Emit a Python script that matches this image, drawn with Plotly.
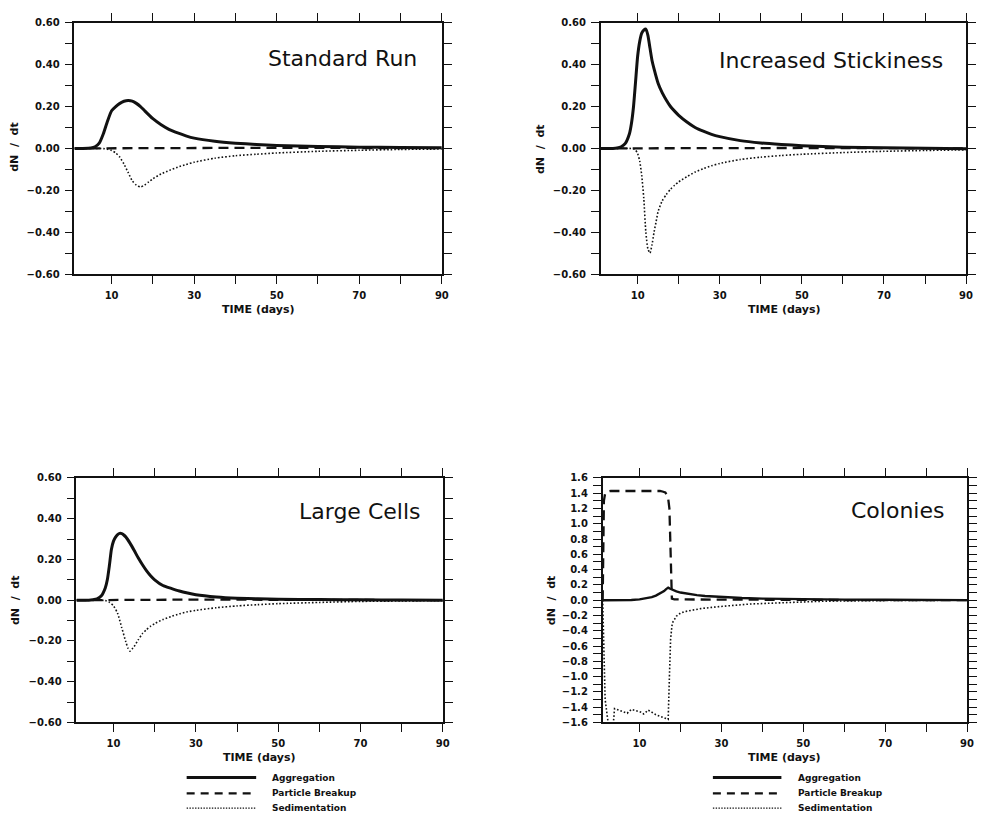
import plotly.graph_objects as go

# ---------------- data ----------------
# Standard Run
t_std_agg = [1, 3, 5, 6, 7, 8, 9, 10, 11, 12, 13, 14, 15, 16, 17, 18, 20, 22, 24, 26, 28, 30, 35, 40, 45, 50, 60, 70, 80, 90]
agg_std = [0, 0, 0.002, 0.008, 0.025, 0.07, 0.13, 0.18, 0.2, 0.215, 0.225, 0.229, 0.226, 0.215, 0.2, 0.18, 0.142, 0.113,
           0.09, 0.074, 0.06, 0.049, 0.034, 0.025, 0.019, 0.014, 0.009, 0.006, 0.004, 0.003]
t_std_sed = [1, 5, 8, 9, 10, 11, 12, 13, 14, 15, 16, 17, 18, 19, 20, 22, 24, 26, 28, 30, 35, 40, 45, 50, 60, 70, 80, 90]
sed_std = [0, 0, -0.001, -0.004, -0.01, -0.022, -0.042, -0.075, -0.115, -0.155, -0.176, -0.184, -0.175, -0.16, -0.145,
           -0.122, -0.105, -0.09, -0.077, -0.066, -0.047, -0.035, -0.028, -0.022, -0.014, -0.009, -0.005, -0.003]
t_std_brk = [1, 10, 20, 30, 50, 70, 90]
brk_std = [0, 0.001, 0.002, 0.003, 0.003, 0.002, 0.001]

# Increased Stickiness
t_stk_agg = [1, 4, 5, 6, 7, 8, 8.5, 9, 9.5, 10, 10.5, 11, 11.5, 12, 12.5, 13, 13.5, 14, 15, 16, 17, 18, 19, 20, 22, 24,
             26, 28, 30, 35, 40, 45, 50, 60, 70, 80, 90]
agg_stk = [0, 0, 0.002, 0.008, 0.024, 0.07, 0.12, 0.2, 0.32, 0.44, 0.51, 0.55, 0.565, 0.57, 0.54, 0.48, 0.42, 0.38, 0.31,
           0.265, 0.23, 0.2, 0.178, 0.158, 0.126, 0.1, 0.082, 0.067, 0.056, 0.037, 0.026, 0.019, 0.013, 0.006, 0.003,
           0.001, -0.002]
t_stk_sed = [1, 8, 9, 9.5, 10, 10.5, 11, 11.5, 12, 12.5, 13, 13.5, 14, 14.5, 15, 16, 17, 18, 19, 20, 22, 24, 26, 28, 30,
             35, 40, 45, 50, 60, 70, 80, 90]
sed_stk = [0, 0, -0.002, -0.008, -0.025, -0.06, -0.13, -0.24, -0.40, -0.48, -0.5, -0.46, -0.4, -0.35, -0.3, -0.25, -0.22,
           -0.195, -0.176, -0.16, -0.135, -0.113, -0.097, -0.083, -0.072, -0.053, -0.042, -0.034, -0.028, -0.02,
           -0.014, -0.01, -0.007]
t_stk_brk = [1, 10, 20, 30, 50, 70, 90]
brk_stk = [0, 0.001, 0.002, 0.002, 0.002, 0.001, 0]

# Large Cells
t_lc_agg = [1, 4, 5, 6, 7, 8, 8.5, 9, 9.5, 10, 10.5, 11, 11.5, 12, 12.5, 13, 14, 15, 16, 17, 18, 19, 20, 22, 24, 26, 28,
            30, 35, 40, 45, 50, 60, 70, 80, 90]
agg_lc = [0, 0, 0.002, 0.006, 0.02, 0.06, 0.1, 0.17, 0.25, 0.29, 0.31, 0.322, 0.328, 0.327, 0.32, 0.31, 0.28, 0.245,
          0.208, 0.175, 0.145, 0.12, 0.1, 0.072, 0.058, 0.045, 0.035, 0.027, 0.016, 0.01, 0.007, 0.005, 0.003, 0.002,
          0.001, 0]
t_lc_sed = [1, 8, 9, 10, 11, 12, 13, 13.5, 14, 14.5, 15, 16, 17, 18, 19, 20, 22, 24, 26, 28, 30, 35, 40, 45, 50, 60, 70,
            80, 90]
sed_lc = [0, -0.002, -0.01, -0.028, -0.065, -0.135, -0.205, -0.235, -0.25, -0.24, -0.228, -0.195, -0.165, -0.145,
          -0.128, -0.115, -0.095, -0.08, -0.067, -0.057, -0.05, -0.037, -0.028, -0.022, -0.017, -0.011, -0.006,
          -0.004, -0.002]
t_lc_brk = [1, 10, 20, 30, 50, 70, 90]
brk_lc = [0, 0.001, 0.003, 0.003, 0.002, 0.001, 0]

# Colonies
t_col_agg = [1, 5, 8, 10, 11, 12, 13, 14, 15, 16, 16.5, 17, 17.5, 18, 19, 20, 22, 24, 26, 28, 30, 35, 40, 45, 50, 60, 70,
             80, 90]
agg_col = [0, 0, 0.003, 0.01, 0.017, 0.025, 0.04, 0.06, 0.085, 0.12, 0.145, 0.165, 0.15, 0.135, 0.115, 0.1, 0.08, 0.066,
           0.055, 0.047, 0.04, 0.028, 0.02, 0.015, 0.012, 0.008, 0.005, 0.003, 0.001]
t_col_brk = [1, 1.15, 1.3, 1.6, 2, 3, 10, 15, 15.8, 16.3, 16.7, 17.0, 17.3, 17.5, 17.7, 17.9, 18.5, 20, 25, 30, 40, 50,
             60, 90]
brk_col = [0, 0.8, 1.3, 1.4, 1.42, 1.43, 1.43, 1.43, 1.42, 1.41, 1.38, 1.33, 1.2, 0.8, 0.3, 0.02, 0.01, 0.01, 0.01,
           0.008, 0.006, 0.004, 0.002, 0]
t_col_sed = [1, 1.3, 1.6, 2.2, 2.6, 3.5, 3.9, 4.5, 5, 6, 7, 8, 9, 10, 10.5, 11, 11.5, 12, 12.5, 13, 13.5, 14, 15, 16,
             16.5, 17, 17.3, 17.6, 18, 18.5, 19, 20, 21, 25, 29, 37, 45, 55, 70, 90]
sed_col = [0, -0.8, -1.3, -1.55, -1.68, -1.68, -1.42, -1.43, -1.44, -1.46, -1.48, -1.43, -1.44, -1.46, -1.47, -1.49,
           -1.47, -1.44, -1.45, -1.47, -1.49, -1.5, -1.52, -1.54, -1.55, -1.56, -1.0, -0.5, -0.3, -0.25, -0.21, -0.17,
           -0.15, -0.11, -0.086, -0.05, -0.03, -0.013, -0.005, 0]

panel_titles = ["Standard Run", "Increased Stickiness", "Large Cells", "Colonies"]
legend_labels = ["Aggregation", "Particle Breakup", "Sedimentation"]
x_tick_vals = [10, 20, 30, 40, 50, 60, 70, 80, 90]
x_tick_text = ["10", "", "30", "", "50", "", "70", "", "90"]

# ---------------- layout helpers ----------------
W, H = 983, 821
FONT = "DejaVu Sans"


def dx(a, b):
    return [a / W, b / W]


def dy(top, bottom):
    return [1 - bottom / H, 1 - top / H]


def fmt(v, dec):
    s = f"{abs(v):.{dec}f}"
    if round(v, dec) < 0:
        s = "\u2212" + s
    return s


def y_ticks(lim, dec):
    n = int(round(lim * 10))
    vals = [k / 10 for k in range(-n, n + 1)]
    text = [fmt(v, dec) if (k % 2 == 0) else "" for k, v in zip(range(-n, n + 1), vals)]
    return vals, text


boxes = [(75, 445, 17, 272), (605, 973, 17, 272), (77, 446, 479, 727), (607, 974, 479, 727)]
ylims = [(0.6, 2), (0.6, 2), (0.6, 2), (1.6, 1)]

series = [
    (t_std_agg, agg_std, t_std_brk, brk_std, t_std_sed, sed_std),
    (t_stk_agg, agg_stk, t_stk_brk, brk_stk, t_stk_sed, sed_stk),
    (t_lc_agg, agg_lc, t_lc_brk, brk_lc, t_lc_sed, sed_lc),
    (t_col_agg, agg_col, t_col_brk, brk_col, t_col_sed, sed_col),
]

fig = go.Figure()
layout = dict(width=W, height=H, margin=dict(l=0, r=0, t=0, b=0), paper_bgcolor="white",
              plot_bgcolor="white", showlegend=False, font=dict(family=FONT, color="#111"))

BLACK = "#111111"
for i, ((l, r, t, b), (lim, dec), s) in enumerate(zip(boxes, ylims, series)):
    n = "" if i == 0 else str(i + 1)
    xa, ya = "x" + n, "y" + n
    agg_w = 2.4 if i == 3 else 3
    shape = "linear" if i == 3 else "spline"
    fig.add_trace(go.Scatter(x=s[4], y=s[5], mode="lines", xaxis=xa, yaxis=ya,
                             line=dict(color=BLACK, width=1.6, dash="1.6px,2px", shape=shape, smoothing=0.6)))
    fig.add_trace(go.Scatter(x=s[2], y=s[3], mode="lines", xaxis=xa, yaxis=ya,
                             line=dict(color=BLACK, width=2.3, dash="10px,6px")))
    fig.add_trace(go.Scatter(x=s[0], y=s[1], mode="lines", xaxis=xa, yaxis=ya,
                             line=dict(color=BLACK, width=agg_w, shape=shape, smoothing=0.6)))
    tv, tt = y_ticks(lim, dec)
    common = dict(showline=True, linecolor=BLACK, linewidth=1.6, mirror="ticks", ticks="outside",
                  ticklen=8, tickwidth=1.3, tickcolor=BLACK, showgrid=False, zeroline=False,
                  tickfont=dict(family=FONT, size=10, color=BLACK, weight="bold"), ticklabelstandoff=3)
    layout["xaxis" + n] = dict(domain=dx(l, r), range=[1, 90], anchor=ya, tickmode="array",
                               tickvals=x_tick_vals, ticktext=x_tick_text, **common)
    layout["yaxis" + n] = dict(domain=dy(t, b), range=[-lim, lim], anchor=xa, tickmode="array",
                               tickvals=tv, ticktext=tt, **common)

annotations = []
title_pos = [(422, 53), (952, 55), (425, 513), (953, 512)]
for txt, (x, y) in zip(panel_titles, title_pos):
    annotations.append(dict(text=txt, x=x / W, y=1 - y / H, xref="paper", yref="paper", xanchor="right",
                            yanchor="middle", showarrow=False, font=dict(family=FONT, size=22, color=BLACK)))
xt_pos = [(260, 308), (790, 308), (261, 763), (790, 763)]
for (x, y) in xt_pos:
    annotations.append(dict(text="TIME\u00a0(days)", x=x / W, y=1 - y / H, xref="paper", yref="paper",
                            xanchor="center", yanchor="middle", showarrow=False,
                            font=dict(family=FONT, size=11, color=BLACK, weight="bold")))
yt_pos = [(15, 143), (545, 145), (15, 603), (555, 603)]
for (x, y) in yt_pos:
    annotations.append(dict(text="dN\u00a0\u00a0/\u00a0\u00a0dt", x=x / W, y=1 - y / H, xref="paper", yref="paper",
                            xanchor="center", yanchor="middle", showarrow=False, textangle=-90,
                            font=dict(family=FONT, size=11, color=BLACK, weight="bold")))

shapes = []
leg_y = [783, 799, 814]
leg_styles = [dict(width=3, dash="solid"), dict(width=2.3, dash="8px,6px"), dict(width=1.3, dash="1.4px,1.4px")]
for (x0, x1, xt) in [(188, 258, 272), (718, 787, 802)]:
    for lab, yy, st in zip(legend_labels, leg_y, leg_styles):
        shapes.append(dict(type="line", xref="paper", yref="paper", x0=x0 / W, x1=x1 / W,
                           y0=1 - yy / H, y1=1 - yy / H, line=dict(color=BLACK, **st)))
        annotations.append(dict(text=lab, x=xt / W, y=1 - yy / H, xref="paper", yref="paper",
                                xanchor="left", yanchor="middle", showarrow=False,
                                font=dict(family=FONT, size=9, color=BLACK, weight="bold")))

layout["annotations"] = annotations
layout["shapes"] = shapes
fig.update_layout(**layout)
fig.write_html("out.html")
